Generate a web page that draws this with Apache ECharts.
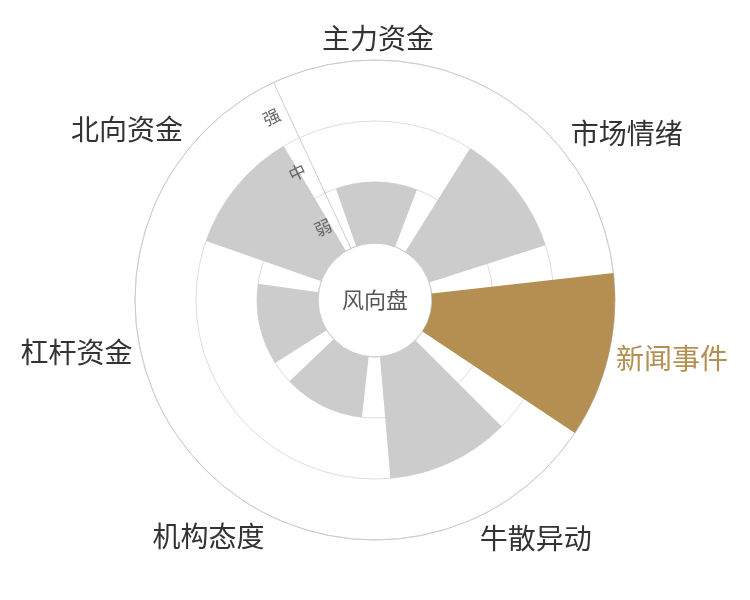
<!DOCTYPE html>
<html>
<head>
<meta charset="utf-8">
<script src="https://cdn.jsdelivr.net/npm/echarts@6/dist/echarts.min.js"></script>
<style>
html,body{margin:0;padding:0;background:#fff;}
#chart{width:750px;height:600px;}
</style>
</head>
<body>
<div id="chart"></div>
<script>
const categories = ['主力资金', '市场情绪', '新闻事件', '牛散异动', '机构态度', '杠杆资金', '北向资金'];
const levelLabels = ['弱', '中', '强'];
const values = [1, 2, 3, 2, 1, 1, 2];
const highlightIndex = 2;
const centerText = '风向盘';

const GOLD = '#b48f51';
const GRAY = '#cccccc';
const FONT = '"Noto Sans CJK SC", "Noto Sans", sans-serif';
const START = 115;

const chart = echarts.init(document.getElementById('chart'));
chart.setOption({
  backgroundColor: '#fff',
  textStyle: { fontFamily: FONT },
  title: {
    text: centerText,
    left: 'center',
    top: 'middle',
    textStyle: { fontSize: 22, color: '#555', fontWeight: 'normal', fontFamily: FONT }
  },
  polar: [
    { center: ['50%', '50%'], radius: [57, 240] },
    { center: ['50%', '50%'], radius: [57, 240] }
  ],
  angleAxis: [
    {
      polarIndex: 0,
      type: 'category',
      data: categories,
      startAngle: START,
      boundaryGap: true,
      axisLine: { show: true, lineStyle: { color: '#cccccc', width: 1 } },
      axisTick: { show: false },
      splitLine: { show: false },
      splitArea: { show: false },
      axisLabel: {
        show: true,
        margin: 8,
        fontSize: 28,
        fontFamily: FONT,
        color: '#333',
        formatter: function (v) {
          return categories.indexOf(v) === highlightIndex ? '{hl|' + v + '}' : '{n|' + v + '}';
        },
        rich: {
          n: { fontSize: 28, color: '#333', fontFamily: FONT },
          hl: { fontSize: 28, color: GOLD, fontFamily: FONT }
        }
      },
      z: 1
    },
    {
      polarIndex: 1,
      type: 'category',
      data: categories,
      startAngle: START,
      show: false
    }
  ],
  radiusAxis: [
    {
      polarIndex: 0,
      type: 'value',
      min: 0,
      max: 3,
      interval: 1,
      axisLine: { show: false },
      axisTick: { show: false },
      axisLabel: { show: false },
      splitLine: { show: true, lineStyle: { color: '#dddddd', width: 1 } },
      z: 1
    },
    {
      polarIndex: 1,
      type: 'category',
      data: levelLabels,
      boundaryGap: true,
      axisLine: { show: true, lineStyle: { color: '#cccccc', width: 1 } },
      axisTick: { show: false },
      splitLine: { show: false },
      axisLabel: { show: true, rotate: 25, margin: 8, fontSize: 17, color: '#666', fontFamily: FONT },
      z: 5
    }
  ],
  series: [
    {
      type: 'bar',
      coordinateSystem: 'polar',
      polarIndex: 0,
      barCategoryGap: '22%',
      data: values.map(function (v, i) {
        return { value: v, itemStyle: { color: i === highlightIndex ? GOLD : GRAY } };
      }),
      z: 3
    }
  ]
});
</script>
</body>
</html>
